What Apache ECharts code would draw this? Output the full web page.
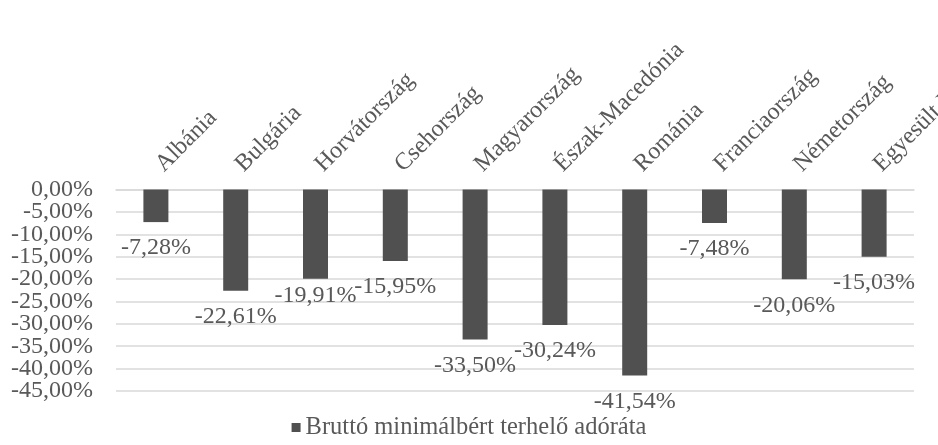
<!DOCTYPE html>
<html>
<head>
<meta charset="utf-8">
<script src="https://cdn.jsdelivr.net/npm/echarts@6/dist/echarts.min.js"></script>
<style>html,body{margin:0;padding:0;background:#fff;}#c{width:938px;height:445px;}</style>
</head>
<body>
<div id="c"></div>
<script>
const categories = ['Albánia','Bulgária','Horvátország','Csehország','Magyarország','Észak-Macedónia','Románia','Franciaország','Németország','Egyesült Királyság'];
const seriesName = 'Bruttó minimálbért terhelő adóráta';
const values = [-7.28, -22.61, -19.91, -15.95, -33.50, -30.24, -41.54, -7.48, -20.06, -15.03];
const yMin = -45, yMax = 0, yStep = 5;

const fmt = v => v.toFixed(2).replace('.', ',') + '%';
const FONT = '"Liberation Serif", "DejaVu Serif", serif';
const TXT = '#595959';

// two overlaid value axes so that neighbouring tick labels (tightly stacked) are never auto-hidden
const makeY = (parity, withGrid) => ({
  type: 'value',
  position: 'left',
  min: yMin, max: yMax, interval: yStep,
  axisLine: {show: false},
  axisTick: {show: false},
  splitLine: {show: withGrid, lineStyle: {color: '#d9d9d9', width: 1.5}},
  axisLabel: {
    margin: 23, showMinLabel: true, showMaxLabel: true, hideOverlap: false,
    fontFamily: FONT, fontSize: 24, color: TXT,
    formatter: v => (Math.round(Math.abs(v) / yStep) % 2 === parity) ? fmt(v) : ''
  }
});

const chart = echarts.init(document.getElementById('c'), null, {renderer: 'canvas'});
chart.setOption({
  animation: false,
  backgroundColor: '#fff',
  textStyle: {fontFamily: FONT},
  grid: {left: 116, right: 24, top: 189.5, bottom: 54, containLabel: false, outerBoundsMode: 'none'},
  legend: {
    data: [seriesName],
    bottom: 0,
    left: 'center',
    icon: 'rect',
    itemWidth: 9,
    itemHeight: 9,
    itemGap: 6,
    textStyle: {fontFamily: FONT, fontSize: 24.5, color: TXT}
  },
  xAxis: {
    type: 'category',
    position: 'top',
    data: categories,
    axisLine: {show: true, lineStyle: {color: '#d9d9d9', width: 1.5}},
    axisTick: {show: false},
    axisLabel: {interval: 0, rotate: 45, margin: 18, padding: [0, 0, 0, 5], hideOverlap: false, fontFamily: FONT, fontSize: 24, color: TXT}
  },
  yAxis: [makeY(0, true), makeY(1, false)],
  series: [{
    name: seriesName,
    type: 'bar',
    yAxisIndex: 0,
    barWidth: 25,
    itemStyle: {color: '#505050'},
    label: {
      show: true,
      position: 'bottom',
      distance: 14,
      fontFamily: FONT,
      fontSize: 24,
      color: TXT,
      formatter: p => fmt(p.value)
    },
    labelLayout: {hideOverlap: false},
    data: values.map((v, i) => i === 2 ? {value: v, label: {distance: 5}} : v)
  }]
});
</script>
</body>
</html>
